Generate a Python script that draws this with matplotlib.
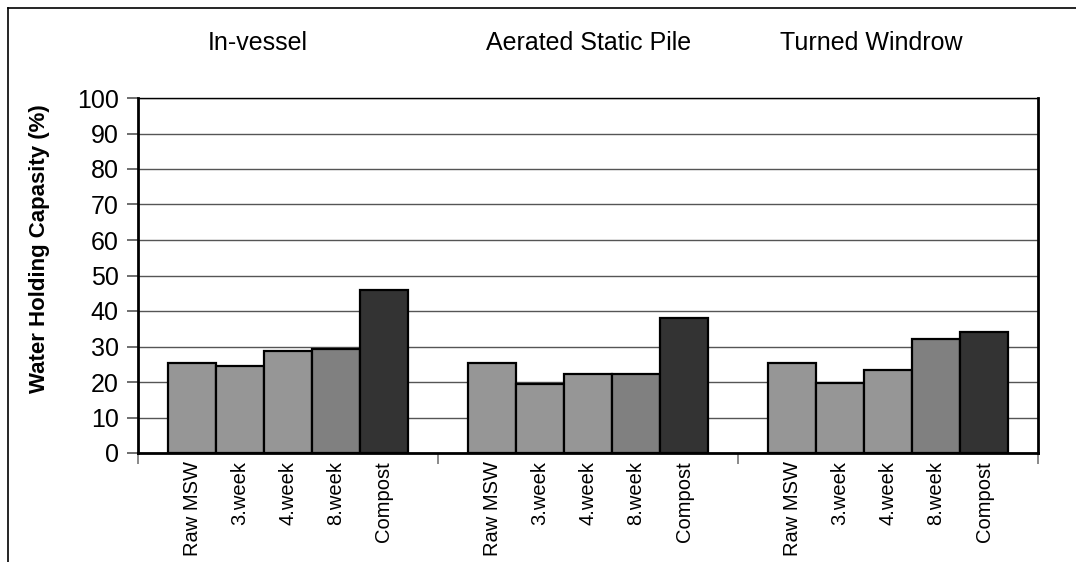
import numpy as np
import matplotlib
matplotlib.use("Agg")
import matplotlib.pyplot as plt
from matplotlib.lines import Line2D

plt.rcParams['font.family'] = ['Liberation Sans', 'DejaVu Sans']

# data
groups = ["In-vessel", "Aerated Static Pile", "Turned Windrow"]
stages = ["Raw MSW", "3.week", "4.week", "8.week", "Compost"]
in_vessel = [25.3, 24.6, 28.7, 29.3, 45.9]
aerated = [25.3, 19.4, 22.3, 22.3, 38.0]
windrow = [25.3, 19.8, 23.3, 32.1, 34.2]
bar_colors = ["#969696", "#969696", "#969696", "#808080", "#333333"]

fig = plt.figure(figsize=(10.76, 5.62), dpi=100)
ax = fig.add_axes([138 / 1076, 1 - 453 / 562, 900 / 1076, 355 / 562])

bw = 0.16
all_vals = [in_vessel, aerated, windrow]
centers = []
labels = []
for g, vals in enumerate(all_vals):
    for i, v in enumerate(vals):
        x = g + 0.1 + bw * i + bw / 2
        ax.bar(x, v, width=bw, color=bar_colors[i], edgecolor="black", linewidth=1.6, zorder=3)
        centers.append(x)
        labels.append(stages[i])

ax.set_xlim(0, 3)
ax.set_ylim(0, 100)
ax.set_yticks(range(0, 101, 10))
ax.tick_params(axis="y", labelsize=18, length=8, width=1.2, color="#555555", pad=6)
ax.set_xticks(centers)
ax.set_xticklabels(labels, rotation=90, fontsize=14.5)
ax.tick_params(axis="x", which="major", length=0, pad=6)
ax.set_xticks([0, 1, 2, 3], minor=True)
ax.tick_params(axis="x", which="minor", length=8, width=1.2, color="#777777")

ax.yaxis.grid(True, color="#555555", linewidth=1.0, zorder=0)
ax.set_axisbelow(True)
for s in ["left", "bottom"]:
    ax.spines[s].set_linewidth(2)
ax.spines["right"].set_linewidth(2)
ax.spines["top"].set_linewidth(1)

# group titles
title_x = [208, 486, 780]
for t, px in zip(groups, title_x):
    fig.text(px / 1076, 1 - 43 / 562, t, fontsize=18, ha="left", va="center")

fig.text(40 / 1076, 1 - 249 / 562, "Water Holding Capasity (%)", rotation=90,
         fontsize=16, fontweight="bold", ha="center", va="center")

# outer frame (top and left only visible)
fig.add_artist(Line2D([8 / 1076, 1], [1 - 8 / 562] * 2, color="black", linewidth=1.2))
fig.add_artist(Line2D([8 / 1076] * 2, [0, 1 - 8 / 562], color="black", linewidth=1.2))

fig.savefig("out.png", dpi=100)
